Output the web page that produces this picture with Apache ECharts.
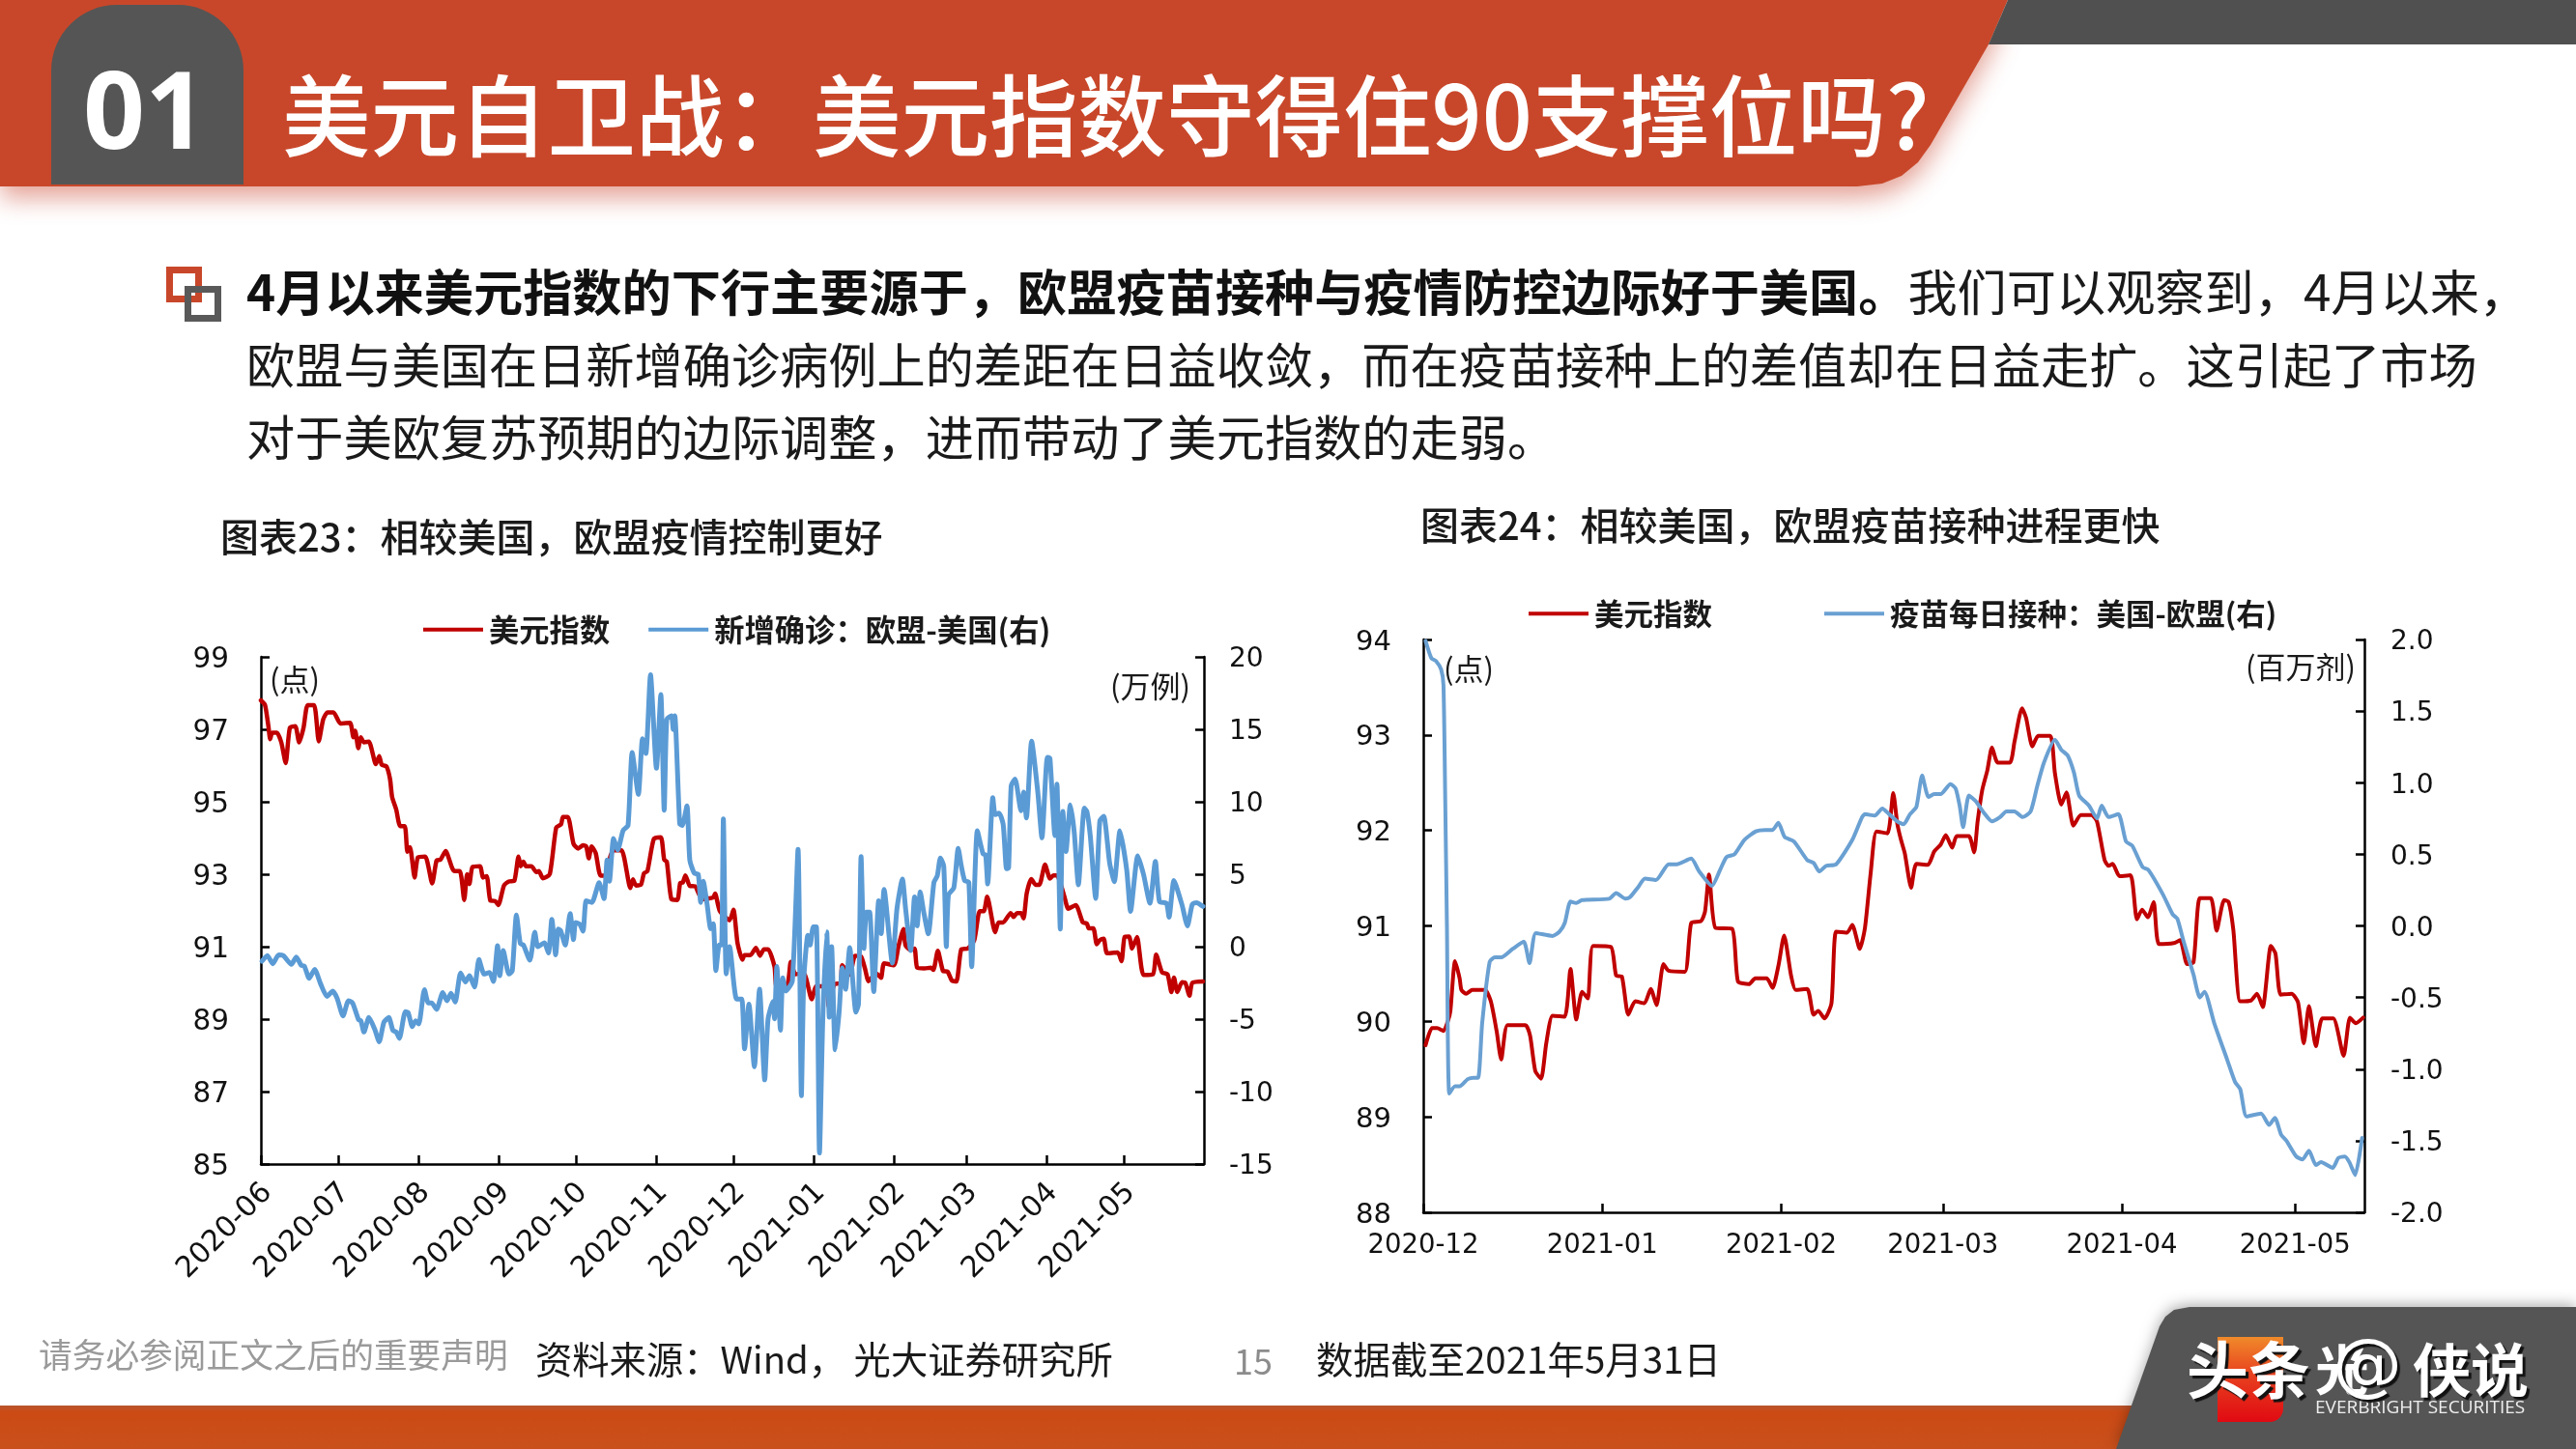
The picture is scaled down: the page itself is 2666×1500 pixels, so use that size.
<!DOCTYPE html>
<html><head><meta charset="utf-8">
<style>html,body{margin:0;padding:0;background:#fff}#c{width:2666px;height:1500px}</style>
<script src="https://cdn.jsdelivr.net/npm/echarts@6/dist/echarts.min.js"></script>
</head><body><div id="c"></div>
<script>
const dxyLabel='美元指数', caseLabel='新增确诊\uFF1A欧盟-美国(右)', vacLabel='疫苗每日接种\uFF1A美国-欧盟(右)';
const monthLabels1=['2020-06','2020-07','2020-08','2020-09','2020-10','2020-11','2020-12','2021-01','2021-02','2021-03','2021-04','2021-05'];
const monthDays1=[0,30,61,92,122,153,183,214,245,273,304,334];
const monthLabels2=['2020-12','2021-01','2021-02','2021-03','2021-04','2021-05'];
const monthDays2=[0,31,62,90,121,151];
const leftTicks1=[85,87,89,91,93,95,97,99];

const dxyDays1=[0,1.6,2.9,3.6,4.4,6.2,7.9,9.6,11.2,13.3,14.8,16.5,18.1,20.6,22.4,24.1,25.8,28.1,30.8,34.5,35.8,36.5,37.7,38.7,39.9,41.8,44.5,45.8,46.8,48.6,50,50.8,52.4,53.9,55.7,56.7,57.7,59.5,60.8,63.6,66.3,68,69.5,71.5,74.8,77,78.7,79.8,80.7,81.9,84.8,86,87.4,88.8,90.6,91.9,94.1,96,98.1,99.7,100.6,101.6,102.6,104.7,106.6,107.6,109.1,111.8,114.3,116.2,116.9,118.8,121,122.8,124.7,
125.9,126.9,128,129.6,131.5,134,135.2,136.5,139.6,143,144,145.2,147.1,148.3,149.6,152.1,154.8,156.1,157.1,158.9,161.2,162.3,163.3,164.3,166,168,170.8,175.1,175.8,177.6,181.4,182.9,184.5,186.4,187.2,189.5,191.6,193.2,194.7,196.3,198.8,199.7,203.8,205.1,206.9,210.1,213.2,215,218.8,219.8,221.9,224.4,225,227.9,230,232.3,233.8,235.2,238.1,240,241.2,245,
246.8,248.7,249.5,251.4,253,254,256.8,259.3,260.3,262,264,265.8,267.4,269.2,271.1,273.6,276.1,278.2,279.8,281.1,284.2,285.5,287.3,290.2,291.3,292.7,294.2,295.2,296.4,298.2,299.8,301.3,303.5,305.4,306.7,308.1,311,312.5,315.4,318.1,319.7,320.4,322.2,323.5,324.7,326.2,327.5,331.6,333.1,334.3,336,337.2,339.1,341.6,345.3,346.5,348.8,350.9,352.4,353.4,354.7,356.5,357.8,359.4,360.5,364.6];
const dxyVals1=[97.8,97.67,97.09,96.73,96.91,96.91,96.64,96.07,97.04,97.09,96.64,97.04,97.67,97.67,96.67,97.27,97.47,97.47,97.16,97.18,96.78,96.96,96.48,96.78,96.64,96.66,96.04,96.26,96.02,95.98,95.62,95.13,94.78,94.33,94.33,93.62,93.75,92.91,93.47,93.49,92.75,93.38,93.4,93.64,93.09,93.09,92.29,93,92.73,93.2,93.22,92.91,92.95,92.27,92.26,92.15,92.69,92.8,92.82,93.49,93.22,93.35,93.22,93.22,93.06,93.09,92.89,93,94.29,94.38,94.58,94.58,93.84,93.71,93.8,
93.77,93.44,93.77,93.58,92.96,92.96,93.48,93.66,93.66,92.62,92.86,92.69,92.71,93.03,93.08,93.98,94.02,93.4,93.35,92.31,92.29,92.76,92.77,92.97,92.68,92.67,92.31,92.36,92.47,91.99,91.73,92.02,91.09,90.64,90.77,90.77,90.97,90.75,90.93,90.93,90.45,89.87,89.96,90.58,90.24,90.27,89.55,89.91,89.91,89.35,89.96,90,90.49,90.23,90.75,90.73,90.4,90.05,90.27,90.14,90.54,90.49,
91.02,91.49,91.04,90.91,90.95,90.42,90.4,90.42,90.36,90.89,90.33,90.31,90.07,90.04,90.93,90.95,91.18,91.98,91.98,92.38,91.4,91.67,91.67,91.93,91.82,91.93,91.93,91.78,92.47,92.87,92.71,92.71,93.27,92.88,92.97,92.97,92.38,92.05,92.15,91.67,91.64,91.51,91.51,91.07,91.18,91.22,90.82,90.84,90.6,91.27,91.28,90.95,91.27,90.22,90.24,90.78,90.29,90.24,89.75,90.15,89.75,90.02,90,89.65,90,90.04];

const caseDays=[0.4,2.5,4.6,6.9,8.7,11.8,13.7,15.6,16.8,18.7,20.8,23.1,25.6,27.8,29.5,31.8,33.9,35.5,37.8,38.7,39.9,41.8,44,45.8,47.6,49.5,51.1,52.4,53.6,55.9,57,58.6,59.9,61.1,63.3,64.8,66.1,68,70.4,72,73.6,75.2,77.3,79.2,80.7,82.7,84.4,86.4,88.5,90,91.6,92.5,93.8,96,97.3,98.9,100.4,101.6,104.1,106,107.2,109.7,111.3,112.6,114.1,115.1,116,117.8,119.7,121,121.8,123.4,124.7,
125.9,128.1,130.9,132.8,134,134.9,136.5,138.1,140.2,142.1,143.7,146.1,147.7,149,150.8,153.1,154.8,156.1,157.1,158.9,159.6,160.2,162.1,163.1,164.9,166,167.7,169.3,170.2,171.2,172.7,174.1,175.1,176.1,177.4,178.3,179,180.1,181.4,184.1,186.1,187.2,188.9,191,193,195,196.3,198.2,198.8,199.7,201.1,202,203.2,205.7,207.9,209.2,210.1,211.7,212.6,213.8,215,216.2,217.5,219,220,220.9,222.3,223.8,225,226.3,227.9,230.3,231.3,232.3,233.4,234.4,235.6,237.2,239.1,240.1,241.2,244.4,246.2,
248.3,249.5,251.5,253,254,255.2,256.5,258.3,260.5,261.8,263,264.3,265.3,266.1,268.2,269.9,271.1,272.4,274,275.1,277.3,279.5,280.5,281.3,283.3,284.2,285.7,287.3,288.6,289.4,290.4,291.9,294.2,295.2,296.3,298.3,300.7,302.3,304.4,305.4,307.3,308.1,309.4,310.4,311.6,313.3,314.8,316.4,318.7,319.7,321,323.1,324.7,326.2,328.5,330.3,332.5,335.1,336.6,339.4,341.6,344.1,346.2,347.8,350.5,351.5,353.4,356.5,358.6,360.5,362.1,364.6];
const caseVals=[-1,-0.62,-1.18,-0.56,-0.62,-1.22,-0.71,-1.29,-1.33,-2.18,-1.56,-2.56,-3.44,-3.07,-3.56,-4.78,-3.73,-3.89,-5.04,-5.11,-5.89,-4.89,-5.67,-6.56,-5.22,-4.89,-5.78,-5.89,-6.33,-4.49,-4.56,-5.51,-5.11,-5.33,-2.96,-3.89,-3.89,-4.33,-3.16,-3.73,-3.22,-3.82,-1.82,-2.44,-2,-2.78,-0.89,-1.89,-1.78,-2.4,0.07,-2,-0.27,-1.89,-1.67,2.18,0.22,0.11,-0.93,1,0,0.27,-0.44,1.89,-0.56,1.22,1.11,0.11,2.29,0.49,1.67,1.56,1.07,
3.16,3.05,4.41,3.32,5.99,4.52,7.46,6.67,8.02,8.37,13.4,10.51,14.35,13.33,18.76,12.31,17.4,9.42,15.71,15.93,14.99,15.93,8.48,8.37,9.72,5.99,5.08,4.97,3.05,4.52,2.93,1.25,1.58,-1.65,0.11,0.11,8.81,-1.88,0,-3.61,-3.61,-7.05,-3.96,-8.29,-2.94,-9.19,-4.98,-3.78,-4.98,-1.36,-5.76,-2.15,-3.06,-2.37,6.71,-10.29,-2.37,0.79,0.11,1.36,1.36,-14.24,-4.86,1.01,-4.86,0,-7.12,-4.52,-1.47,-2.94,-0.07,-4.52,-3.96,6.21,-0.12,2.38,2.38,-3.1,3.16,0.9,3.95,-1.13,2.64,
4.67,2.67,-0.27,3.44,1.44,3.78,2.44,0.89,4.44,4.89,6.11,5.56,0,3.56,4.07,6.78,5.56,4.56,4.44,-1.38,8,6.4,6.33,4.33,10.29,9.11,9.22,8.44,5.38,5.44,11.11,11.56,9.38,10.67,8.89,14.18,10.67,7.51,13.07,13,7.67,11.22,1.22,9.33,6.56,9.78,7.89,4.27,9.56,9.33,7.67,3.33,8.67,9,5.78,4.49,8,5.33,2.44,6.27,5,3,5.89,3.11,3,2.04,4.56,2.89,1.44,2.93,3.04,2.78];

const dxyDays2=[0.4,1.5,2.4,3.5,4.3,4.7,5.5,6.3,6.6,7.4,8.5,10.7,11.7,12.7,13.5,14.6,17.7,18.5,19.4,20.4,21.3,22.4,24.5,25.5,26.5,27.5,28.5,29.4,32.5,33.4,34.4,35.5,36.7,38.3,39.4,40.4,41.6,42.5,45.3,46.4,48.1,48.8,49.5,50.6,53.5,54.5,56.4,57.5,59.5,60.5,61.5,62.5,63.7,64.5,66.5,67.6,68.4,69.5,70.7,71.5,73.4,74.3,75.6,76.5,77.5,78.5,80.4,
81.4,82.1,82.7,83.4,84.5,85.4,87.4,88.5,89.6,90.5,91.6,92.4,94.5,95.4,96,96.8,97.7,98.5,99.5,101.6,102.4,103.7,104.4,105.5,106.5,108.6,109.4,110.5,111.4,112.6,113.9,115.8,116.7,118,118.7,119.4,120.6,122.5,123.6,124.5,125.5,126.5,127.4,130,131.1,132.3,133.4,134.5,136.4,137.4,138.7,139.5,140.3,141.5,143.4,144.4,145.4,146.8,147.6,148.5,150.4,151.5,152.5,153.4,154.6,155.7,157.6,159.4,160.5,161.5,162.8];
const dxyVals2=[89.75,89.93,89.93,89.9,90.01,90.11,90.63,90.45,90.33,90.29,90.33,90.33,90.21,89.9,89.6,89.96,89.96,89.85,89.48,89.4,89.77,90.06,90.05,90.55,90.02,90.31,90.24,90.79,90.78,90.48,90.47,90.07,90.21,90.19,90.34,90.17,90.6,90.53,90.52,91.03,91.05,91.15,91.54,90.98,90.97,90.42,90.39,90.45,90.45,90.35,90.58,90.9,90.48,90.33,90.34,90.07,90.11,90.03,90.19,90.94,90.93,91.01,90.76,90.98,91.56,91.99,91.97,
92.39,92.07,91.91,91.76,91.4,91.65,91.64,91.78,91.85,91.95,91.82,91.94,91.94,91.77,92.09,92.42,92.63,92.87,92.71,92.71,92.93,93.28,93.18,92.88,92.99,92.99,92.6,92.27,92.4,92.05,92.16,92.16,92.09,91.69,91.63,91.65,91.52,91.53,91.07,91.17,91.09,91.25,90.81,90.82,90.85,90.6,90.62,91.29,91.29,90.95,91.27,91.25,90.96,90.21,90.22,90.29,90.15,90.79,90.71,90.28,90.29,90.2,89.77,90.16,89.74,90.03,90.03,89.64,90.04,89.98,90.04];

const vacDays=[0.4,1.4,2.2,3.1,3.5,3.8,4.1,4.5,5.5,6.3,7.7,8.7,9.5,10.2,11.5,12.4,13.5,15.5,17.4,18.4,19.5,22.4,23.6,24.5,25.5,26.5,27.5,32.2,33.4,35,35.8,37.2,38.4,40.3,42.5,43.9,46.4,47.8,50,51.4,52.5,53.9,55.6,57.6,59.2,60.5,61.5,62.6,64.2,66.5,67.6,68.6,69.8,71.5,74.3,76,76.5,78.2,79.5,
80.7,82.1,83.2,84.3,85.4,86.4,87.5,88.5,89.6,91.3,92.2,92.9,93.5,94.5,95.7,97.1,98.5,99.9,101,102.4,103.8,105.2,106.3,107.5,109.4,110.5,111.6,112.7,113.6,115.3,116.7,117.5,118.7,120.4,121.7,122.8,124.6,125.6,128.1,129.8,130.6,131.7,133.4,134.5,135.3,137,139.2,140.6,141.5,142.6,145.1,146.5,147.5,148.6,149.5,151.2,152.3,153.4,154.6,155.5,157.5,158.5,159.6,160.4,161.4,162.6];
const vacVals=[1.99,1.87,1.85,1.79,1.68,0.89,-0.01,-1.17,-1.12,-1.12,-1.07,-1.06,-1.06,-0.68,-0.25,-0.22,-0.22,-0.16,-0.11,-0.26,-0.05,-0.07,-0.04,0.02,0.17,0.16,0.18,0.19,0.23,0.19,0.2,0.27,0.33,0.32,0.43,0.43,0.47,0.38,0.28,0.39,0.48,0.5,0.6,0.66,0.67,0.67,0.72,0.62,0.59,0.46,0.44,0.38,0.42,0.43,0.6,0.76,0.78,0.77,0.82,
0.78,0.73,0.71,0.78,0.83,1.05,0.9,0.92,0.92,0.99,0.96,0.84,0.69,0.91,0.87,0.79,0.73,0.76,0.8,0.8,0.76,0.8,0.97,1.14,1.3,1.23,1.19,1.07,0.91,0.84,0.75,0.84,0.76,0.78,0.59,0.56,0.41,0.39,0.22,0.08,0.05,-0.11,-0.34,-0.5,-0.46,-0.68,-0.93,-1.09,-1.14,-1.33,-1.31,-1.39,-1.34,-1.46,-1.5,-1.61,-1.63,-1.57,-1.67,-1.65,-1.69,-1.62,-1.61,-1.65,-1.74,-1.48];

const RED='#C00000', BLUE='#5B9BD5', CJK='"Noto Sans CJK SC","Noto Sans",sans-serif', NUM='"DejaVu Sans",sans-serif';
const ORANGE='#C8472A', DARK='#555555';
const zip=(a,b)=>a.map((d,i)=>[d,b[i]]);
const line=(name,data,color,w,g,yi)=>({type:'line',name,data,xAxisIndex:g,yAxisIndex:yi,symbol:'none',smooth:0.2,
  lineStyle:{color,width:w,join:'round',cap:'round'},itemStyle:{color},clip:false,silent:true});
const axisLine={lineStyle:{color:'#000',width:2.5}};
const tick=(vals)=>({inside:true,length:9,lineStyle:{color:'#000',width:2.5},...(vals?{customValues:vals}:{})});
const xAxis=(g,max,days,labels,rot,margin,size,pad)=>({type:'value',gridIndex:g,min:0,max,splitLine:{show:false},axisLine:{...axisLine,onZero:false},axisTick:tick(days),
  axisLabel:{customValues:days,rotate:rot,margin,padding:pad,fontFamily:NUM,fontSize:size,color:'#111',rich:{v:{}},formatter:v=>'{v|'+(labels[days.indexOf(v)]||'')+'}'}});
const yAxis=(g,pos,min,max,interval,margin,fmt,custom,size)=>({type:'value',gridIndex:g,position:pos,min,max,...(custom?{}:{interval}),splitLine:{show:false},axisLine:{show:true,...axisLine},axisTick:{show:true,...tick(custom)},
  axisLabel:{...(custom?{customValues:custom}:{}),margin,padding:[6,0,0,0],fontFamily:NUM,fontSize:size||28,color:'#111',rich:{v:{}},formatter:v=>'{v|'+fmt(v)+'}'}});
const T=(x,y,text,size,o={})=>({type:'text',x,y,z:o.z||20,style:{text,fontSize:size,fontFamily:o.font||CJK,fontWeight:o.w||'normal',fill:o.c||'#1a1a1a',verticalAlign:'middle',align:o.a||'left',...(o.extra||{})}});

const graphic=[
 {type:'polygon',shape:{points:[[0,0],[2078,0],[2058,46],[1998,150],[1985,168],[1968,182],[1948,190],[1922,193],[0,193]]},style:{fill:ORANGE,shadowBlur:26,shadowOffsetY:12,shadowColor:'rgba(205,85,65,0.55)'},z:2},
 {type:'polygon',shape:{points:[[2078,0],[2666,0],[2666,46],[2058,46]]},style:{fill:'#505050'},z:3},
 {type:'rect',shape:{x:53,y:5,width:199,height:186,r:[68,68,0,0]},style:{fill:DARK},z:3},
 T(86,122,'01',112,{c:'#fff',w:'bold',font:'"Noto Sans",sans-serif',z:5}),
 T(292,120,'美元自卫战\uFF1A美元指数守得住90支撑位吗?',91.5,{c:'#fff',w:500,z:5}),
 {type:'rect',shape:{x:175.5,y:279.5,width:30,height:30},style:{fill:'none',stroke:'#C8472A',lineWidth:7},z:6},
 {type:'rect',shape:{x:194.5,y:299.5,width:31,height:30},style:{fill:'none',stroke:'#595959',lineWidth:7},z:7},
 {type:'text',x:255,y:303,z:20,style:{text:'{b|4月以来美元指数的下行主要源于\uFF0C欧盟疫苗接种与疫情防控边际好于美国。}{r|我们可以观察到\uFF0C4月以来\uFF0C}',verticalAlign:'middle',
   rich:{b:{fontSize:51.2,fontFamily:CJK,fontWeight:'bold',fill:'#111'},r:{fontSize:51.2,fontFamily:CJK,fill:'#1a1a1a'}}}},
 T(255,378,'欧盟与美国在日新增确诊病例上的差距在日益收敛\uFF0C而在疫苗接种上的差值却在日益走扩。这引起了市场',50.2),
 T(255,453,'对于美欧复苏预期的边际调整\uFF0C进而带动了美元指数的走弱。',50.2),
 T(228,556,'图表23\uFF1A相较美国\uFF0C欧盟疫情控制更好',40,{w:500}),
 T(1470,544,'图表24\uFF1A相较美国\uFF0C欧盟疫苗接种进程更快',40,{w:500}),
 T(279,703,'(点)',31),T(1149,710,'(万例)',31),T(1494,692,'(点)',31),T(2324,690,'(百万剂)',31),
 T(40,1403,'请务必参阅正文之后的重要声明',34.7,{c:'#9a9a9a'}),
 T(554,1407,'资料来源\uFF1AWind\uFF0C 光大证券研究所',38.3),
 T(1277,1409,'15',36,{c:'#8c8c8c'}),
 T(1362,1407,'数据截至2021年5月31日',38.5),
 {type:'rect',shape:{x:0,y:1455,width:2300,height:45},style:{fill:{type:'linear',x:0,y:0,x2:0,y2:1,colorStops:[{offset:0,color:'#B8552F'},{offset:0.15,color:'#CC4A14'},{offset:1,color:'#C9501C'}]}},z:1},
 {type:'polygon',shape:{points:[[2190,1500],[2235,1373],[2241,1363],[2250,1356],[2266,1353],[2666,1353],[2666,1500]]},style:{fill:DARK,shadowBlur:14,shadowColor:'rgba(0,0,0,0.3)',shadowOffsetY:-3},z:2},
 {type:'rect',shape:{x:2295,y:1384,width:68,height:88,r:[0,0,14,0]},style:{fill:{type:'linear',x:0,y:0,x2:0,y2:1,colorStops:[{offset:0,color:'#F08A2A'},{offset:0.45,color:'#E8401F'},{offset:1,color:'#E00A12'}]}},z:3},
 T(2396,1418,'光',56,{c:'#fff',z:4,w:'bold'}),
 T(2396,1458,'EVERBRIGHT SECURITIES',19,{c:'#eee',font:'"Open Sans",sans-serif',z:4}),
 T(2263,1418,'头条',64,{c:'#fff',w:'bold',z:6,extra:{textShadowColor:'#111',textShadowOffsetX:3,textShadowOffsetY:3,textShadowBlur:1}}),
 T(2414,1418,'@',72,{c:'#fff',z:6,font:NUM,extra:{textShadowColor:'#111',textShadowOffsetX:3,textShadowOffsetY:3,textShadowBlur:1}}),
 T(2497,1418,'侠说',60,{c:'#fff',w:'bold',z:6,extra:{textShadowColor:'#111',textShadowOffsetX:3,textShadowOffsetY:3,textShadowBlur:1}})
];

const legend=(left,top,gap,names,size)=>({left,top,itemGap:gap,itemWidth:62,itemHeight:4,icon:'rect',padding:0,selectedMode:false,data:names,
  textStyle:{fontFamily:CJK,fontSize:size,fontWeight:'bold',color:'#1a1a1a',padding:[0,0,0,1]}});

const chart=echarts.init(document.getElementById('c'),null,{width:2666,height:1500,renderer:'canvas'});
chart.setOption({
 animation:false,backgroundColor:'#fff',graphic,
 legend:[legend(438,636,40,[dxyLabel,caseLabel],31.3),legend(1582,620,116,[dxyLabel,vacLabel],30.5)],
 grid:[{left:270,top:680,width:976,height:525,containLabel:false},{left:1473,top:662,width:974,height:593,containLabel:false}],
 xAxis:[xAxis(0,365,monthDays1,monthLabels1,45,18,30,[20,0,0,0]),xAxis(1,163,monthDays2,monthLabels2,0,21,27.5,0)],
 yAxis:[
  yAxis(0,'left',85,99,2,33,v=>v,leftTicks1,29.5),
  yAxis(0,'right',-15,20,5,26,v=>v),
  yAxis(1,'left',88,94,1,33,v=>v,null,29),
  yAxis(1,'right',-2,2,0.5,27,v=>v.toFixed(1))
 ],
 series:[
  line(dxyLabel,zip(dxyDays1,dxyVals1),RED,4.5,0,0),
  line(caseLabel,zip(caseDays,caseVals),BLUE,5,0,1),
  line(dxyLabel,zip(dxyDays2,dxyVals2),RED,4,1,2),
  line(vacLabel,zip(vacDays,vacVals),'#6AA0D2',4,1,3)
 ]
});
</script></body></html>
